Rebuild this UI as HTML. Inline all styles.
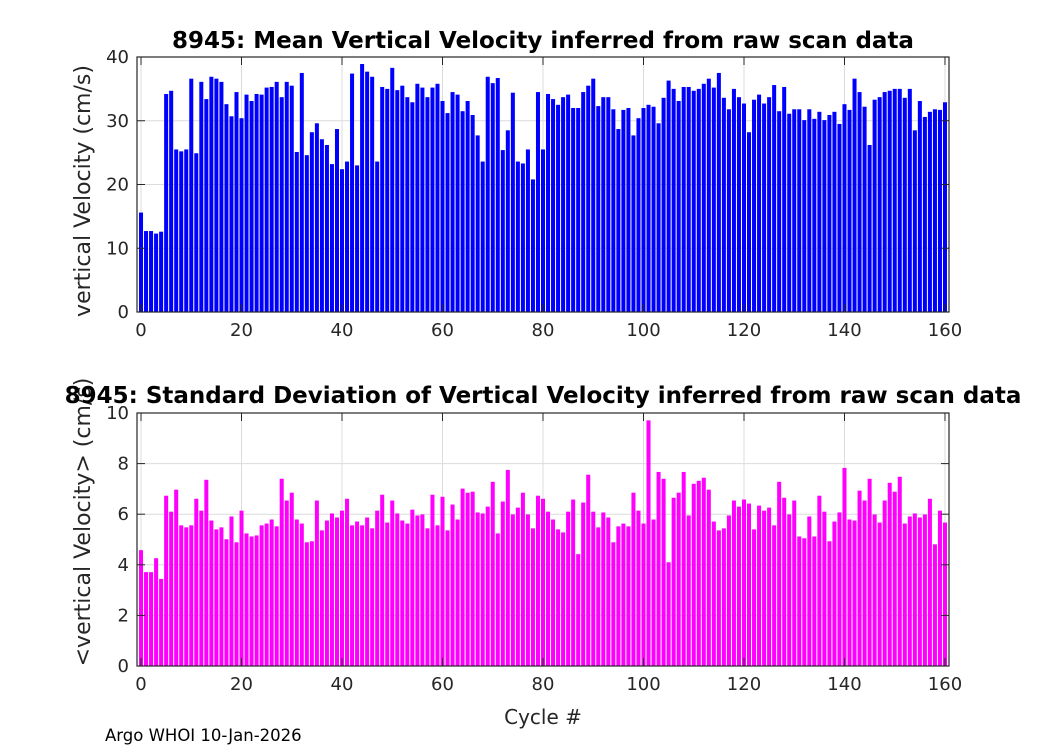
<!DOCTYPE html>
<html><head><meta charset="utf-8"><style>
html,body{margin:0;padding:0;background:#fff;}
svg{display:block;font-family:"DejaVu Sans","Liberation Sans",sans-serif;}
</style></head><body>
<svg id="chart" width="1050" height="750">
<rect width="1050" height="750" fill="#fff"/>
<g id="top"></g>
<g id="bot"></g>
<text x="543" y="48" font-size="23" font-weight="bold" text-anchor="middle" fill="#000">8945: Mean Vertical Velocity inferred from raw scan data</text>
<text transform="translate(90,191) rotate(-90)" font-size="22" text-anchor="middle" fill="#262626">vertical Velocity (cm/s)</text>
<text transform="translate(90,522) rotate(-90)" font-size="22" text-anchor="middle" fill="#262626">&lt;vertical Velocity&gt; (cm/s)</text>
<text x="543" y="403" font-size="23" font-weight="bold" text-anchor="middle" fill="#000">8945: Standard Deviation of Vertical Velocity inferred from raw scan data</text>
<text x="543" y="724" font-size="20" text-anchor="middle" fill="#262626">Cycle #</text>
<text x="105" y="741" font-size="16.5" fill="#000">Argo WHOI 10-Jan-2026</text>
</svg>
<script>
const xTicks = [0,20,40,60,80,100,120,140,160];
const topYTicks = [0,10,20,30,40];
const botYTicks = [0,2,4,6,8,10];
const meanVel = [15.6,12.7,12.7,12.3,12.6,34.2,34.7,25.5,25.2,25.5,36.6,24.9,36.1,33.4,36.9,36.6,36.1,32.6,30.7,34.5,
30.4,34.1,33.1,34.2,34.1,35.2,35.3,36.1,33.7,36.1,35.5,25.1,37.5,24.6,28.2,29.6,27.1,26.2,23.2,28.7,
22.4,23.6,37.4,23.0,38.9,37.7,36.9,23.6,35.3,35.0,38.3,34.8,35.5,33.7,32.9,35.8,35.2,33.7,35.2,35.8,
33.1,31.2,34.5,34.1,31.5,33.1,30.9,27.7,23.6,36.9,35.9,36.7,25.4,28.5,34.4,23.6,23.3,25.5,20.8,34.5,
25.5,34.2,33.4,32.5,33.7,34.1,32.0,32.0,34.5,35.5,36.6,32.3,33.7,33.7,31.8,28.7,31.7,32.0,27.7,30.4,
32.0,32.5,32.2,29.6,33.6,36.3,35.0,33.1,35.3,35.3,34.7,35.0,35.8,36.6,35.2,37.5,33.6,31.8,35.0,33.7,
32.7,28.2,33.3,34.1,32.7,33.7,35.6,31.5,35.3,31.1,31.8,31.8,30.1,31.8,30.3,31.4,30.1,30.9,31.4,29.5,
32.6,31.7,36.6,34.5,32.2,26.2,33.3,33.7,34.5,34.7,35.0,35.0,33.6,35.0,28.5,33.1,30.6,31.4,31.8,31.7,32.9];
const stdVel = [4.58,3.71,3.71,4.26,3.44,6.73,6.10,6.97,5.56,5.48,5.56,6.61,6.14,7.36,5.75,5.40,5.48,5.01,5.91,4.89,
6.14,5.24,5.12,5.16,5.56,5.63,5.79,5.52,7.40,6.54,6.85,5.79,5.63,4.89,4.93,6.54,5.36,5.75,6.03,5.87,
6.14,6.61,5.56,5.71,5.56,5.87,5.44,6.14,6.77,5.67,6.54,6.03,5.75,5.63,6.18,5.95,5.99,5.44,6.77,5.56,
6.69,5.36,6.38,5.79,7.01,6.85,6.89,6.07,6.03,6.30,7.28,5.24,6.50,7.75,5.99,6.26,6.85,5.99,5.44,6.73,
6.61,6.10,5.79,5.40,5.28,6.10,6.58,4.42,6.46,7.56,6.10,5.48,6.07,5.87,4.89,5.52,5.63,5.52,6.85,6.14,
5.63,9.71,5.79,7.67,7.40,4.10,6.65,6.85,7.67,5.95,7.20,7.32,7.44,6.97,5.71,5.36,5.44,5.95,6.54,6.30,
6.58,6.42,5.40,6.34,6.14,6.26,5.56,7.28,6.65,5.99,6.54,5.12,5.05,5.91,5.12,6.73,6.10,4.93,5.71,6.07,
7.83,5.79,5.75,6.93,6.54,7.40,5.99,5.67,6.54,7.24,6.89,7.48,5.63,5.91,6.03,5.87,5.99,6.61,4.81,6.14,5.67];

const NS='http://www.w3.org/2000/svg';
function mk(parent, tag, attrs){const e=document.createElementNS(NS,tag);for(const k in attrs)e.setAttribute(k,attrs[k]);parent.appendChild(e);return e;}
const L=137,R=949,xMin=-0.8,xMax=160.8;
function xs(v){return L+(v-xMin)/(xMax-xMin)*(R-L);}

function panel(g, top, bottom, yMax, yTicks, values, color, prefix){
  const ys=v=>bottom-(v/yMax)*(bottom-top);
  const bg=mk(g,'rect',{x:L,y:top,width:R-L,height:bottom-top,fill:'#fff'});
  
  
  xTicks.forEach(t=>{
    const l=mk(g,'line',{x1:xs(t),x2:xs(t),y1:top,y2:bottom,stroke:'#dcdcdc','stroke-width':1});
    
    
  });
  yTicks.forEach(t=>{
    const l=mk(g,'line',{x1:L,x2:R,y1:ys(t),y2:ys(t),stroke:'#dcdcdc','stroke-width':1});
    
    
  });
  const bw=0.8*(R-L)/(xMax-xMin);
  values.forEach((v,i)=>{
    const b=mk(g,'rect',{x:xs(i)-bw/2,y:ys(v),width:bw,height:bottom-ys(v),fill:color});
    
    
  });
  const box=mk(g,'rect',{x:L,y:top,width:R-L,height:bottom-top,fill:'none',stroke:'#262626','stroke-width':1.2});
  
  
  xTicks.forEach(t=>{
    mk(g,'line',{x1:xs(t),x2:xs(t),y1:bottom,y2:bottom-8,stroke:'#262626'});
    mk(g,'line',{x1:xs(t),x2:xs(t),y1:top,y2:top+8,stroke:'#262626'});
    const tx=mk(g,'text',{x:xs(t),y:bottom+24,'font-size':18,'text-anchor':'middle',fill:'#262626'});
    tx.textContent=t;
    
    
  });
  yTicks.forEach(t=>{
    mk(g,'line',{x1:L,x2:L+8,y1:ys(t),y2:ys(t),stroke:'#262626'});
    mk(g,'line',{x1:R,x2:R-8,y1:ys(t),y2:ys(t),stroke:'#262626'});
    const tx=mk(g,'text',{x:L-8,y:ys(t)+6,'font-size':18,'text-anchor':'end',fill:'#262626'});
    tx.textContent=t;
    
    
  });
}
panel(document.getElementById('top'),57,312,40,topYTicks,meanVel,'#0000ff','mean');
panel(document.getElementById('bot'),413,666,10,botYTicks,stdVel,'#ff00ff','std');
</script>
</body></html>
